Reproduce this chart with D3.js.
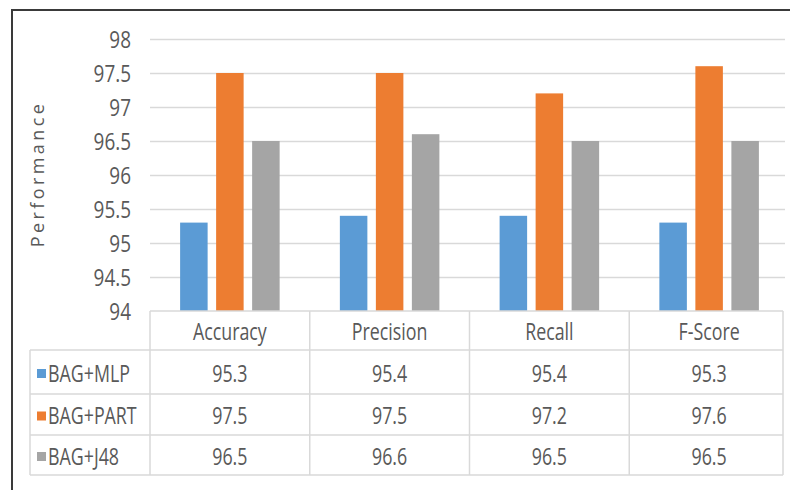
<!DOCTYPE html>
<html>
<head>
<meta charset="utf-8">
<script src="https://cdn.jsdelivr.net/npm/d3@7"></script>
<style>
  html, body { margin: 0; padding: 0; background: #fff; }
  svg { display: block; }
  text { font-family: "Open Sans", "DejaVu Sans", sans-serif; fill: #595959; }
</style>
</head>
<body>
<svg id="chart" width="790" height="490"></svg>
<script>
// Metric categories and the three bagging ensembles
const categories = ["Accuracy", "Precision", "Recall", "F-Score"];
const seriesNames = ["BAG+MLP", "BAG+PART", "BAG+J48"];
const bagMlp  = [95.3, 95.4, 95.4, 95.3];
const bagPart = [97.5, 97.5, 97.2, 97.6];
const bagJ48  = [96.5, 96.6, 96.5, 96.5];
const yTicks = [94, 94.5, 95, 95.5, 96, 96.5, 97, 97.5, 98];
const seriesColors = ["#5b9bd5", "#ed7d31", "#a5a5a5"];

const seriesValues = [bagMlp, bagPart, bagJ48];

const svg = d3.select("#chart");

// layout
const plotLeft = 150, plotRight = 789, tableRight = 783, gridRight = 785;
const plotTop = 39, plotBottom = 311;
const tableLeft = 30;
const rowEdges = [311, 350, 394, 435, 475];
const gridColor = "#d9d9d9";

// outer frame
svg.append("rect")
  .attr("x", 12).attr("y", 10).attr("width", 800).attr("height", 500)
  .attr("fill", "none").attr("stroke", "#3a3a3a").attr("stroke-width", 2);

const x = d3.scaleBand().domain(categories).range([plotLeft, plotRight]);
const xInner = d3.scaleBand().domain(seriesNames)
  .range([0, x.bandwidth() * 0.623]).paddingInner(0.236);
const groupOffset = (x.bandwidth() - xInner.range()[1]) / 2;
const y = d3.scaleLinear().domain([94, 98]).range([plotBottom, plotTop]);

// horizontal gridlines
svg.append("g").selectAll("line")
  .data(yTicks.filter(t => t > 94))
  .join("line")
  .attr("x1", plotLeft).attr("x2", gridRight)
  .attr("y1", d => Math.round(y(d)) + 0.5).attr("y2", d => Math.round(y(d)) + 0.5)
  .attr("stroke", gridColor).attr("stroke-width", 1.5);

// y tick labels, drawn through a left axis
const yAxis = svg.append("g")
  .attr("transform", "translate(131,0)")
  .call(d3.axisLeft(y).tickValues(yTicks).tickFormat(d3.format("~g")).tickSize(0).tickPadding(0));
yAxis.select(".domain").remove();
yAxis.selectAll(".tick text")
  .attr("x", null).attr("dy", null)
  .attr("dominant-baseline", "central")
  .attr("text-anchor", "end")
  .attr("transform", "scale(0.86,1.04)")
  .style("font-size", "22px")
  .style("font-family", "'Open Sans', sans-serif")
  .attr("fill", "#595959");

// axis title
svg.append("text")
  .attr("transform", "translate(37,174) rotate(-90)")
  .attr("text-anchor", "middle")
  .attr("dominant-baseline", "central")
  .style("font-size", "18px")
  .style("letter-spacing", "3.4px")
  .text("Performance");

// bars
const barData = [];
seriesNames.forEach((s, si) => {
  categories.forEach((c, ci) => barData.push({ s, si, c, v: seriesValues[si][ci] }));
});
svg.append("g").selectAll("rect")
  .data(barData)
  .join("rect")
  .attr("x", d => x(d.c) + groupOffset + xInner(d.s))
  .attr("width", xInner.bandwidth())
  .attr("y", d => y(d.v))
  .attr("height", d => y(94) - y(d.v))
  .attr("fill", d => seriesColors[d.si]);

// data table
const table = svg.append("g").attr("stroke", gridColor).attr("stroke-width", 1.5);
// top edge of the header row (the axis baseline)
table.append("line")
  .attr("x1", plotLeft).attr("x2", tableRight)
  .attr("y1", rowEdges[0]).attr("y2", rowEdges[0]);
// row separators
rowEdges.slice(1).forEach(r => {
  table.append("line")
    .attr("x1", tableLeft).attr("x2", tableRight)
    .attr("y1", r).attr("y2", r);
});
// column separators
categories.forEach(c => {
  table.append("line")
    .attr("x1", x(c)).attr("x2", x(c))
    .attr("y1", rowEdges[0]).attr("y2", rowEdges[4]);
});
table.append("line")
  .attr("x1", tableRight).attr("x2", tableRight)
  .attr("y1", rowEdges[0]).attr("y2", rowEdges[4]);
table.append("line")
  .attr("x1", tableLeft).attr("x2", tableLeft)
  .attr("y1", rowEdges[1]).attr("y2", rowEdges[4]);

function squeezed(g, px, py, str, anchor) {
  return g.append("text")
    .attr("transform", `translate(${px},${py}) scale(0.81,1.05)`)
    .attr("text-anchor", anchor)
    .attr("dominant-baseline", "central")
    .style("font-size", "22px")
    .text(str);
}

const cells = svg.append("g");
// header row: category names
categories.forEach(c => {
  squeezed(cells, x(c) + x.bandwidth() / 2, (rowEdges[0] + rowEdges[1]) / 2 + 1, c, "middle");
});
// one row per series: legend key, name and values
const fmt = d3.format(".1f");
seriesNames.forEach((s, si) => {
  const cy = (rowEdges[si + 1] + rowEdges[si + 2]) / 2 + 1;
  cells.append("rect")
    .attr("x", 37).attr("y", cy - 4).attr("width", 9).attr("height", 9)
    .attr("fill", seriesColors[si]);
  squeezed(cells, 48, cy, s, "start");
  categories.forEach((c, ci) => {
    squeezed(cells, x(c) + x.bandwidth() / 2, cy, fmt(seriesValues[si][ci]), "middle");
  });
});
</script>
</body>
</html>
